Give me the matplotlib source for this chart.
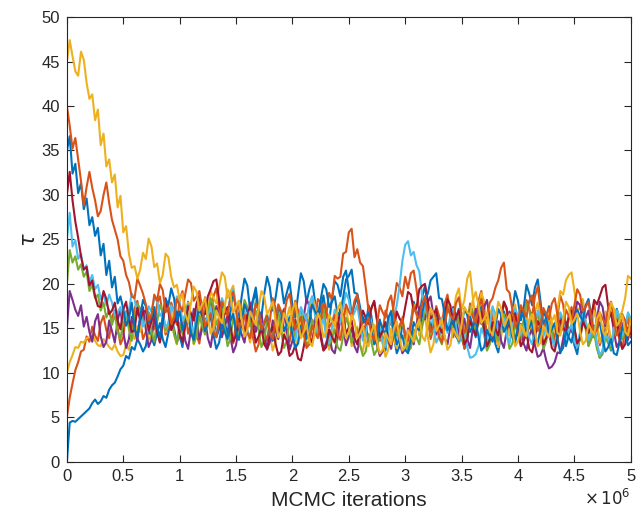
import numpy as np
import matplotlib
matplotlib.use("Agg")
import matplotlib.pyplot as plt

# Trace of tau for ten MCMC chains, one value every 25,000 iterations
step = 25_000
n_samples = 201

chain_blue_low = [
    0, 4.4, 4.6, 4.5, 4.8, 5.1, 5.4, 5.7, 6.0, 6.6, 7.0, 6.5, 6.8, 7.4, 7.2, 8.1, 8.6, 8.9, 9.6, 10.4,
    10.8, 11.9, 11.6, 12.9, 12.6, 13.8, 13.2, 12.4, 13.0, 14.9, 14.0, 13.1, 14.5, 15.6, 13.8, 12.9, 14.5, 16.1, 15.0, 13.4, 14.2,
    12.9, 15.5, 18.0, 16.2, 13.9, 14.8, 17.2, 15.9, 14.5, 17.0, 18.3, 16.1, 14.0, 14.9, 17.5, 15.6, 14.4, 16.8, 18.8, 17.5,
    16.0, 18.6, 20.6, 19.8, 17.1, 18.2, 19.6, 17.1, 16.3, 18.9, 20.8, 19.6, 17.0, 18.4, 20.6, 20.1, 17.8, 19.0, 20.2, 17.6,
    16.2, 18.8, 21.2, 20.3, 17.9, 19.4, 20.4, 18.0, 15.8, 17.2, 18.7, 16.5, 15.7, 18.3, 20.3, 19.9, 18.6, 20.8, 21.5, 19.2,
    16.5, 17.6, 18.6, 16.0, 13.8, 15.1, 17.6, 16.4, 13.7, 14.6, 16.0, 13.9, 12.5, 15.2, 16.2, 14.1, 12.2, 13.0, 15.6, 14.4,
    13.2, 15.7, 18.0, 16.9, 16.1, 18.5, 19.8, 17.3, 14.8, 16.1, 17.2, 14.8, 13.4, 15.9, 18.1, 17.2, 14.7, 16.0, 17.2, 14.7,
    12.7, 13.8, 16.4, 15.1, 14.0, 16.4, 17.5, 15.2, 12.7, 14.0, 15.4, 13.2, 12.3, 14.5, 16.9, 15.8, 14.5, 17.0, 19.2, 18.1,
    15.9, 17.2, 19.9, 18.9, 17.6, 19.6, 20.5, 18.0, 15.3, 16.3, 17.5, 15.0, 12.9, 14.1, 16.7, 15.4, 13.0, 14.2, 15.4, 13.1,
    12.1, 14.3, 16.8, 15.6, 13.1, 14.4, 15.3, 13.0, 11.7, 12.4, 14.9, 13.7, 12.5, 14.9, 17.2, 16.2, 13.8, 15.1, 16.4, 14.0]

chain_orange_low = [
    5, 7.2, 8.8, 10.3, 11.2, 12.4, 12.6, 14.1, 13.5, 15.2, 14.2, 13.6, 15.6, 16.4, 14.8, 13.9, 16.3, 17.0, 15.1, 13.2,
    14.0, 16.9, 15.8, 14.7, 17.2, 18.1, 16.0, 13.8, 14.6, 16.8, 15.9, 14.9, 17.8, 18.6, 16.4, 14.3, 15.2, 17.9, 16.9, 15.4, 18.2,
    19.2, 17.0, 14.4, 15.6, 16.7, 14.3, 13.3, 15.8, 18.5, 17.4, 16.5, 18.6, 19.5, 17.1, 14.5, 15.5, 16.6, 14.2, 13.3, 15.7,
    18.1, 16.9, 14.2, 15.3, 16.3, 14.0, 12.4, 13.2, 15.8, 14.6, 13.6, 15.9, 18.4, 17.3, 14.8, 16.1, 17.2, 14.7, 13.5, 15.8,
    18.1, 17.0, 14.4, 15.4, 16.6, 14.1, 13.3, 15.6, 18.3, 17.9, 15.8, 16.5, 19.0, 18.2, 20.9, 20.6, 20.8, 23.4, 23.6, 25.8,
    26.2, 23.0, 23.9, 22.4, 22.0, 19.6, 17.0, 17.2, 18.0, 15.8, 13.6, 14.6, 17.0, 16.0, 15.4, 17.8, 20.1, 19.6, 18.6, 20.8,
    19.5, 21.2, 21.5, 19.4, 16.9, 17.6, 18.6, 16.2, 13.8, 15.0, 17.5, 16.4, 15.4, 17.8, 18.8, 16.5, 14.0, 15.1, 16.2, 13.9,
    12.8, 15.2, 17.8, 16.8, 15.9, 18.1, 19.2, 16.7, 14.3, 15.3, 16.6, 14.2, 13.2, 15.6, 18.0, 17.0, 14.5, 15.8, 16.9, 14.5,
    13.3, 15.7, 18.2, 17.2, 16.3, 18.6, 19.7, 17.1, 14.6, 15.9, 17.2, 14.8, 13.8, 16.3, 18.7, 17.7, 15.2, 16.2, 17.4, 15.0,
    12.9, 13.9, 16.4, 15.2, 14.2, 16.6, 17.8, 15.4, 13.1, 14.1, 16.5, 15.3, 13.1, 14.4, 15.7, 13.6, 12.7, 14.9, 16.4, 14.2]

chain_yellow_low = [
    10, 11.2, 12.0, 12.9, 12.8, 13.5, 13.4, 13.9, 14.0, 14.4, 13.6, 13.1, 13.0, 13.8, 13.4, 12.9, 12.6, 13.2, 12.4, 11.9,
    12.0, 13.1, 12.6, 14.5, 13.8, 15.3, 14.6, 16.2, 15.4, 13.7, 14.2, 16.7, 15.8, 17.6, 16.9, 14.6, 15.5, 17.1, 14.3, 13.2, 15.6,
    14.4, 16.8, 17.9, 15.2, 13.2, 14.1, 16.6, 15.5, 14.6, 16.9, 19.2, 18.4, 17.8, 19.7, 21.3, 20.8, 18.4, 19.1, 19.8, 17.3,
    14.8, 15.9, 17.0, 14.6, 13.4, 15.8, 18.1, 17.1, 14.6, 15.7, 16.7, 14.3, 12.5, 13.5, 16.0, 14.8, 13.8, 16.2, 17.4, 15.0,
    12.8, 13.8, 16.2, 14.9, 13.9, 16.3, 18.6, 17.6, 15.1, 16.1, 17.2, 14.7, 12.6, 13.6, 16.0, 14.9, 13.9, 16.2, 17.5, 15.3,
    13.0, 14.0, 15.2, 13.1, 12.4, 14.4, 16.8, 15.7, 13.3, 14.5, 15.6, 13.3, 11.8, 12.6, 15.0, 13.8, 12.8, 15.0, 16.3, 13.9,
    12.9, 15.2, 17.7, 16.6, 14.2, 15.3, 16.4, 14.1, 12.3, 13.2, 15.7, 14.5, 13.5, 15.9, 18.3, 17.2, 16.4, 18.6, 19.5, 17.1,
    18.2, 20.6, 21.4, 18.4, 16.0, 16.9, 19.0, 18.0, 15.5, 16.5, 17.5, 15.1, 12.9, 14.0, 16.4, 15.3, 14.2, 16.6, 17.7, 15.2,
    13.0, 14.0, 16.5, 15.4, 14.4, 16.8, 17.9, 15.5, 13.2, 14.2, 16.7, 15.6, 14.7, 17.0, 19.2, 18.8, 20.4, 21.0, 21.3, 19.2,
    16.9, 17.4, 18.3, 15.9, 13.6, 14.6, 17.0, 15.8, 13.4, 14.4, 16.9, 15.7, 13.5, 14.5, 17.0, 16.2, 17.0, 18.4, 20.9, 20.6]

chain_purple = [
    15, 19.2, 18.2, 17.1, 16.4, 17.6, 15.2, 16.3, 14.6, 13.5, 15.8, 16.6, 14.1, 12.9, 13.5, 15.9, 14.7, 13.4, 15.9, 17.2,
    14.6, 12.8, 13.8, 16.3, 15.0, 13.6, 16.2, 17.4, 14.9, 12.9, 13.7, 16.2, 14.8, 13.5, 16.1, 18.4, 17.3, 15.1, 15.8, 16.9, 14.5,
    15.8, 13.6, 12.7, 14.9, 17.2, 16.2, 13.8, 15.0, 16.1, 13.9, 12.9, 15.1, 17.5, 16.4, 14.0, 15.2, 16.3, 14.0, 12.3, 13.1,
    15.3, 14.3, 13.4, 15.7, 17.9, 17.0, 14.6, 15.6, 16.7, 14.4, 12.6, 13.5, 15.9, 14.8, 13.8, 16.0, 17.1, 14.7, 12.6, 13.6,
    16.0, 14.9, 14.1, 16.3, 18.3, 17.5, 15.1, 16.0, 16.9, 14.6, 12.6, 13.4, 14.5, 12.6, 12.2, 13.9, 16.1, 15.2, 13.1, 14.1,
    15.1, 13.0, 12.3, 14.2, 16.3, 15.5, 13.3, 14.3, 15.2, 13.1, 11.9, 12.4, 14.6, 13.6, 12.7, 14.8, 15.6, 13.5, 12.2, 12.7,
    15.0, 14.0, 13.2, 15.3, 17.4, 16.6, 16.0, 17.9, 18.6, 16.4, 14.3, 15.1, 16.0, 13.9, 13.2, 15.2, 17.4, 16.5, 14.2, 15.1,
    16.1, 13.8, 12.8, 15.0, 17.2, 16.3, 15.5, 17.4, 18.2, 16.0, 13.8, 14.7, 15.8, 13.6, 12.8, 14.8, 16.9, 16.0, 13.7, 14.6,
    15.5, 13.3, 12.5, 14.2, 15.0, 13.1, 11.8, 12.0, 12.8, 11.4, 10.5, 10.7, 11.2, 12.3, 12.2, 13.8, 15.7, 15.1, 14.6, 16.5,
    18.0, 17.6, 15.4, 16.2, 17.0, 14.9, 14.0, 16.1, 18.0, 17.4, 15.2, 16.0, 16.8, 14.7, 12.9, 13.5, 15.6, 14.8, 13.7, 15.6]

chain_green = [
    20, 23.8, 22.4, 23.1, 21.6, 22.2, 20.8, 21.4, 19.2, 19.9, 18.4, 18.8, 17.0, 17.9, 16.2, 17.1, 15.4, 16.6, 14.6, 13.8,
    15.8, 16.9, 14.9, 13.6, 16.1, 17.8, 17.2, 15.4, 15.9, 16.8, 14.7, 13.5, 15.8, 17.6, 16.9, 14.8, 15.6, 16.2, 14.4, 13.3, 15.5,
    14.4, 16.7, 17.7, 15.4, 13.3, 14.2, 16.4, 15.3, 14.3, 16.5, 18.4, 17.6, 15.4, 16.3, 17.2, 15.0, 13.0, 13.9, 16.1, 15.1,
    14.1, 16.2, 18.2, 17.4, 15.2, 16.1, 17.0, 14.8, 12.9, 13.7, 15.9, 14.9, 14.0, 16.0, 17.0, 14.7, 12.8, 13.6, 15.8, 14.8,
    14.0, 16.1, 17.2, 15.0, 13.0, 13.8, 16.0, 15.0, 14.2, 16.3, 17.2, 15.1, 13.1, 13.9, 14.9, 12.9, 12.5, 14.1, 16.2, 15.3,
    13.4, 14.2, 15.0, 13.1, 11.9, 12.4, 14.4, 13.5, 12.0, 12.6, 14.7, 13.8, 13.0, 15.0, 17.0, 16.3, 14.2, 15.1, 15.9, 13.9,
    12.4, 12.8, 14.9, 14.0, 13.2, 15.2, 17.2, 16.4, 14.3, 15.2, 16.1, 14.0, 13.2, 15.3, 17.4, 16.6, 14.5, 15.4, 16.2, 14.1,
    13.3, 15.4, 17.5, 16.7, 14.6, 15.5, 16.4, 14.3, 12.5, 13.2, 15.3, 14.4, 13.6, 15.7, 16.6, 14.5, 12.7, 13.3, 15.4, 14.6,
    13.8, 15.9, 17.8, 17.1, 15.0, 15.8, 16.7, 14.6, 12.7, 13.5, 15.6, 14.7, 12.9, 13.6, 15.7, 14.9, 14.1, 16.1, 17.0, 14.8,
    13.0, 13.7, 15.8, 14.9, 13.0, 13.8, 14.5, 12.7, 11.7, 12.1, 14.0, 13.3, 12.6, 14.6, 16.5, 15.8, 13.8, 14.6, 16.6, 15.9]

chain_lightblue = [
    25, 28.0, 24.2, 24.9, 22.8, 23.4, 21.6, 22.1, 20.2, 21.0, 19.4, 19.9, 18.3, 18.9, 17.6, 18.8, 17.9, 16.5, 16.8, 17.4,
    15.9, 16.4, 17.1, 18.9, 18.3, 16.5, 17.0, 15.2, 15.8, 17.5, 16.9, 18.4, 18.1, 16.4, 16.8, 15.1, 15.6, 17.6, 16.7, 18.6, 17.9,
    15.8, 16.6, 17.6, 15.4, 14.5, 16.5, 18.5, 17.7, 15.5, 16.4, 17.3, 15.2, 14.3, 16.3, 18.4, 17.5, 16.8, 18.6, 19.4, 17.3,
    15.2, 16.0, 16.9, 14.8, 14.0, 15.9, 18.0, 17.0, 14.9, 15.7, 16.6, 14.5, 13.7, 15.6, 17.6, 16.8, 14.7, 15.5, 16.4, 14.3,
    13.6, 15.4, 17.4, 16.6, 15.9, 17.8, 18.6, 16.5, 14.4, 15.2, 16.1, 14.0, 13.3, 15.1, 17.1, 16.3, 15.6, 17.4, 19.0, 18.2,
    16.1, 16.8, 17.6, 15.5, 13.6, 14.3, 16.3, 15.4, 13.4, 14.2, 15.1, 13.3, 12.9, 14.5, 16.9, 16.2, 17.6, 19.8, 22.6, 24.4,
    24.8, 23.2, 23.6, 22.1, 21.4, 18.6, 17.0, 16.4, 17.3, 15.2, 13.4, 14.1, 16.2, 15.3, 14.5, 16.5, 17.2, 15.2, 13.3, 14.0,
    14.7, 12.9, 11.7, 11.8, 12.1, 13.0, 15.0, 14.2, 13.5, 15.4, 17.4, 16.6, 14.5, 15.3, 16.1, 14.1, 13.3, 15.2, 17.2, 16.4,
    14.3, 15.1, 15.9, 13.9, 13.2, 15.0, 17.0, 16.2, 14.1, 14.9, 15.7, 13.7, 13.0, 14.8, 16.8, 16.0, 13.9, 14.7, 15.5, 13.5,
    12.9, 14.6, 16.6, 15.8, 13.7, 14.5, 15.2, 13.3, 12.0, 12.5, 14.4, 13.8, 13.1, 15.0, 17.0, 16.3, 14.2, 15.0, 16.8, 16.1]

chain_darkred = [
    30, 32.6, 29.4, 27.0, 25.2, 23.1, 21.6, 21.9, 19.8, 20.4, 18.6, 17.5, 17.4, 19.2, 18.3, 16.6, 17.0, 17.9, 15.9, 14.9,
    17.1, 18.0, 16.0, 14.6, 14.8, 17.3, 15.9, 16.8, 17.0, 14.8, 15.8, 16.9, 14.6, 13.4, 15.7, 17.9, 16.9, 14.8, 15.6, 16.1, 14.4,
    13.5, 15.5, 17.5, 16.7, 15.9, 17.8, 18.7, 16.5, 16.6, 18.6, 19.4, 20.3, 20.5, 18.2, 16.0, 16.6, 17.4, 15.3, 13.5, 14.2,
    16.1, 15.4, 14.6, 16.6, 17.4, 15.3, 13.4, 14.1, 15.0, 13.2, 12.7, 14.4, 15.2, 13.3, 12.0, 12.4, 14.3, 13.6, 11.9, 12.2,
    13.1, 11.6, 11.4, 12.9, 14.8, 14.1, 13.4, 15.3, 16.1, 14.0, 12.5, 12.9, 14.9, 14.1, 13.4, 15.2, 17.2, 16.4, 14.4, 15.1,
    15.9, 13.9, 13.2, 15.0, 17.0, 16.2, 15.5, 17.3, 18.1, 16.0, 14.0, 14.8, 15.7, 13.7, 13.1, 14.9, 16.9, 16.1, 15.6, 17.4,
    19.1, 18.8, 17.0, 17.3, 19.4, 19.8, 20.0, 18.1, 16.1, 16.5, 17.2, 15.2, 14.5, 16.4, 18.3, 17.6, 15.5, 16.3, 17.0, 15.0,
    13.2, 13.8, 15.8, 15.0, 14.2, 16.1, 16.9, 14.9, 13.0, 13.7, 15.7, 14.9, 14.2, 16.1, 18.0, 17.3, 15.2, 16.0, 16.7, 14.8,
    13.0, 13.6, 14.4, 12.7, 12.3, 13.9, 15.8, 15.1, 13.2, 13.9, 14.6, 12.8, 12.4, 14.0, 15.9, 15.2, 14.5, 16.4, 17.0, 15.1,
    13.3, 13.9, 15.8, 15.1, 14.5, 16.3, 18.2, 17.7, 18.6, 19.6, 19.9, 17.4, 16.6, 15.3, 16.0, 14.1, 12.7, 13.2, 15.1, 14.4]

chain_blue_high = [
    35, 36.6, 32.4, 33.5, 30.2, 31.3, 28.4, 29.6, 26.6, 27.5, 25.4, 26.3, 23.2, 24.5, 21.0, 22.6, 19.6, 20.8, 17.8, 18.6,
    17.2, 15.3, 16.1, 17.9, 15.0, 14.1, 16.3, 18.2, 17.5, 15.6, 16.2, 17.4, 15.1, 14.0, 16.4, 18.3, 17.6, 19.5, 18.4, 15.9, 16.9,
    14.8, 15.6, 16.6, 14.5, 13.7, 15.7, 17.7, 16.9, 14.7, 15.5, 16.4, 14.3, 12.7, 13.4, 15.5, 14.6, 13.8, 15.8, 16.7, 14.5,
    13.7, 15.7, 17.7, 16.9, 16.2, 18.1, 18.9, 16.8, 14.8, 15.5, 16.4, 14.3, 13.6, 15.5, 17.5, 16.7, 14.7, 15.4, 16.2, 14.2,
    12.8, 13.3, 15.3, 14.5, 13.8, 15.7, 17.7, 16.9, 16.4, 18.2, 20.0, 19.4, 17.4, 18.0, 18.6, 16.6, 16.8, 18.5, 20.5, 20.9,
    21.6, 19.0, 18.9, 17.4, 15.6, 16.1, 16.8, 14.9, 13.2, 13.8, 15.8, 15.0, 14.3, 16.2, 16.9, 15.0, 13.2, 13.8, 14.2, 12.6,
    12.2, 13.8, 15.7, 15.0, 14.8, 16.6, 18.4, 18.9, 20.4, 20.8, 21.2, 18.4, 18.3, 16.6, 14.8, 15.3, 16.0, 14.1, 13.6, 15.3,
    17.2, 16.5, 14.6, 15.2, 15.9, 14.0, 12.5, 12.9, 14.8, 14.1, 13.5, 15.3, 17.2, 16.5, 14.6, 15.2, 15.9, 14.0, 13.4, 15.2,
    17.1, 16.4, 14.5, 15.1, 15.8, 13.9, 13.3, 15.0, 16.9, 16.2, 14.3, 14.9, 15.6, 13.8, 12.3, 12.8, 14.7, 14.0, 13.4, 15.2,
    17.1, 16.4, 15.8, 17.6, 18.3, 16.3, 14.4, 15.0, 15.7, 13.8, 12.4, 12.9, 13.8, 12.2, 12.0, 13.4, 15.2, 14.6, 13.1, 13.5]

chain_orange_high = [
    40, 37.8, 35.2, 36.4, 34.0, 31.6, 28.8, 30.9, 32.6, 30.8, 29.4, 27.6, 28.2, 30.0, 31.4, 29.1, 27.2, 26.1, 25.0, 23.1,
    22.6, 21.0, 20.2, 18.6, 18.4, 20.6, 19.8, 18.9, 17.7, 15.9, 16.5, 18.8, 18.1, 20.0, 19.3, 16.8, 17.4, 15.5, 16.2, 18.3, 17.6,
    16.9, 18.9, 20.5, 20.1, 18.1, 18.6, 19.2, 17.2, 15.2, 15.9, 16.7, 14.7, 14.0, 15.9, 18.0, 17.2, 16.5, 18.4, 19.1, 17.0,
    15.1, 15.7, 16.5, 14.5, 13.9, 15.8, 17.8, 17.0, 14.9, 15.6, 16.4, 14.4, 13.8, 15.7, 17.7, 16.9, 16.4, 18.2, 18.9, 16.8,
    14.9, 15.5, 16.3, 14.3, 12.8, 13.2, 15.3, 14.5, 13.9, 15.8, 17.8, 17.0, 15.1, 15.7, 16.5, 14.4, 13.7, 15.6, 17.7, 16.9,
    16.3, 18.1, 18.8, 16.7, 14.8, 15.4, 16.2, 14.2, 13.7, 15.5, 17.6, 16.8, 16.2, 18.0, 18.7, 16.6, 14.7, 15.3, 16.1, 14.1,
    13.6, 15.3, 17.4, 16.6, 16.0, 17.8, 18.6, 16.5, 14.6, 15.2, 16.0, 14.0, 13.4, 15.2, 17.3, 16.5, 16.0, 17.8, 18.5, 16.4,
    14.5, 15.1, 17.1, 16.3, 15.6, 17.2, 18.3, 16.5, 16.2, 17.9, 18.4, 19.6, 20.4, 21.8, 22.4, 19.4, 19.0, 17.1, 15.2, 15.8,
    17.6, 16.9, 16.3, 18.1, 18.7, 16.7, 14.7, 15.4, 17.3, 16.6, 16.0, 17.8, 18.4, 16.5, 14.5, 15.2, 17.1, 16.4, 15.8, 17.6,
    19.4, 18.8, 16.9, 17.4, 18.0, 16.1, 14.3, 14.9, 16.8, 16.1, 15.5, 17.3, 18.0, 16.0, 14.2, 14.8, 16.6, 15.9, 14.2, 14.9]

chain_yellow_high = [
    45, 47.4, 45.6, 43.9, 43.4, 46.1, 45.2, 42.6, 40.8, 41.3, 38.4, 39.6, 35.6, 36.9, 33.2, 34.0, 31.4, 32.3, 28.6, 29.9,
    25.8, 26.5, 23.4, 21.8, 22.0, 20.6, 21.6, 23.5, 22.8, 25.1, 24.2, 21.9, 22.3, 20.1, 21.0, 23.4, 23.0, 20.8, 19.6, 19.9, 18.2,
    18.9, 16.6, 15.7, 17.8, 19.7, 19.1, 17.0, 17.7, 18.4, 16.3, 14.4, 15.0, 17.0, 16.2, 15.6, 17.5, 19.4, 18.8, 16.8, 17.4,
    18.1, 16.0, 14.1, 14.8, 16.9, 16.1, 15.4, 17.3, 19.2, 18.6, 16.6, 17.2, 18.0, 15.9, 14.0, 14.7, 16.7, 15.9, 15.2, 17.1,
    17.9, 15.8, 13.9, 14.6, 15.5, 13.5, 13.0, 14.7, 16.7, 15.9, 14.0, 14.6, 16.6, 15.8, 15.3, 17.1, 17.9, 15.8, 13.9, 14.6,
    16.5, 15.8, 13.9, 14.5, 15.3, 13.4, 13.0, 14.6, 15.4, 13.5, 12.2, 12.6, 14.5, 13.8, 13.2, 15.0, 15.8, 13.9, 12.5, 12.9,
    14.8, 14.1, 13.5, 15.3, 16.0, 14.1, 13.6, 15.4, 17.3, 16.6, 14.7, 15.3, 16.0, 14.1, 12.6, 13.1, 15.0, 14.3, 13.7, 15.5,
    17.4, 16.8, 16.5, 18.2, 19.1, 17.6, 15.6, 16.1, 16.8, 14.8, 14.2, 16.0, 18.0, 17.3, 15.3, 15.9, 16.6, 14.6, 13.0, 13.5,
    15.4, 14.7, 14.1, 15.9, 16.6, 14.6, 13.0, 13.4, 15.3, 14.6, 14.0, 15.8, 16.5, 14.5, 14.2, 16.0, 18.0, 17.4, 15.5, 16.0,
    16.7, 14.7, 13.2, 13.6, 15.5, 14.8, 14.3, 16.1, 16.8, 14.8, 14.2, 15.9, 17.9, 17.2, 15.3, 15.8, 16.5, 14.6, 14.2, 16.0]

chains = [chain_blue_low, chain_orange_low, chain_yellow_low, chain_purple,
          chain_green, chain_lightblue, chain_darkred, chain_blue_high,
          chain_orange_high, chain_yellow_high]

# MATLAB-style default colour order, cycling after seven chains
line_colors = ["#0072BD", "#D95319", "#EDB120", "#7E2F8E", "#77AC30",
               "#4DBEEE", "#A2142F", "#0072BD", "#D95319", "#EDB120"]

x_ticks = [0, 0.5e6, 1e6, 1.5e6, 2e6, 2.5e6, 3e6, 3.5e6, 4e6, 4.5e6, 5e6]
x_tick_labels = ["0", "0.5", "1", "1.5", "2", "2.5", "3", "3.5", "4", "4.5", "5"]
y_ticks = [0, 5, 10, 15, 20, 25, 30, 35, 40, 45, 50]

plt.rcParams["font.family"] = ["Liberation Sans", "DejaVu Sans"]
axis_color = "#262626"

fig = plt.figure(figsize=(6.43, 5.16), dpi=100)
ax = fig.add_axes([0.104, 0.105, 0.877, 0.862])

iterations = np.arange(n_samples) * step
for values, color in zip(chains, line_colors):
    n = min(len(values), n_samples)
    ax.plot(iterations[:n], values[:n], color=color, linewidth=1.5)

ax.set_xlim(0, 5e6)
ax.set_ylim(0, 50)
ax.set_xticks(x_ticks)
ax.set_xticklabels(x_tick_labels)
ax.set_yticks(y_ticks)

for side in ["left", "right", "top", "bottom"]:
    ax.spines[side].set_color(axis_color)
    ax.spines[side].set_linewidth(0.8)
ax.tick_params(direction="in", length=5, width=0.8, colors=axis_color,
               labelsize=12, top=True, right=True, pad=5)

ax.set_xlabel("MCMC iterations", fontsize=15, color=axis_color)
ax.xaxis.set_label_coords(0.5, -0.066)
ax.set_ylabel(r"$\tau$", fontsize=15, color=axis_color)
ax.yaxis.set_label_coords(-0.05, 0.5)
ax.text(1.0, -0.058, r"$\times\,10^{6}$", transform=ax.transAxes,
        ha="right", va="top", fontsize=12, color=axis_color)

fig.savefig("out.png", dpi=100)
